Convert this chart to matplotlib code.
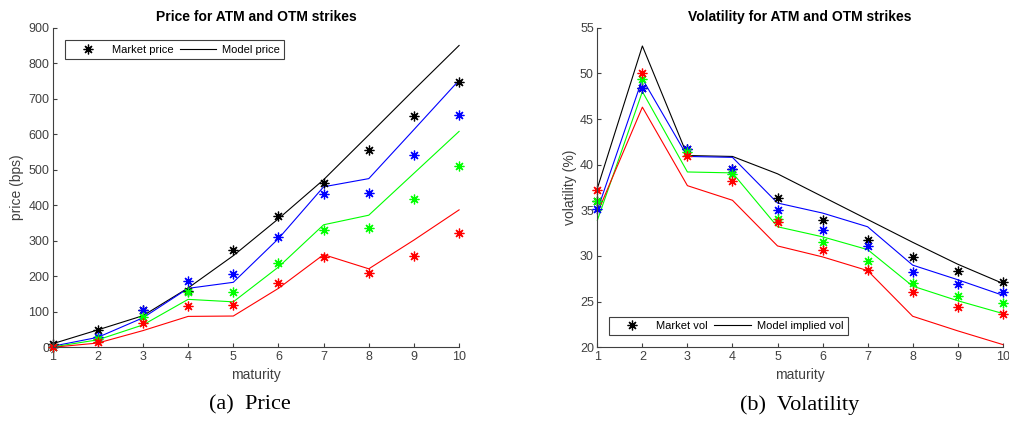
import matplotlib.pyplot as plt

maturity = [1, 2, 3, 4, 5, 6, 7, 8, 9, 10]

# prices (bps): market quotes and model prices, ATM first then OTM strikes
price_mkt_k = [8, 50, 105, 158, 274, 369, 463, 557, 651, 746]
price_mkt_b = [2, 30, 105, 188, 206, 310, 431, 435, 541, 654]
price_mkt_g = [1, 22, 86, 157, 155, 236, 329, 335, 419, 511]
price_mkt_r = [0, 16, 68, 115, 119, 182, 254, 208, 258, 322]

price_mod_k = [10, 49, 89, 167, 258, 362, 472, 598, 725, 850]
price_mod_b = [3, 28, 83, 166, 183, 306, 452, 475, 613, 752]
price_mod_g = [1, 21, 63, 135, 128, 226, 345, 372, 490, 608]
price_mod_r = [0, 12, 47, 87, 88, 166, 261, 221, 302, 387]

# volatilities (%)
vol_mkt_k = [36.0, 48.4, 41.7, 39.5, 36.4, 33.9, 31.7, 29.9, 28.4, 27.1]
vol_mkt_b = [35.1, 48.4, 41.7, 39.5, 35.0, 32.8, 31.1, 28.2, 26.9, 26.1]
vol_mkt_g = [36.0, 49.4, 41.4, 39.0, 34.0, 31.5, 29.5, 27.0, 25.6, 24.8]
vol_mkt_r = [37.2, 50.0, 40.9, 38.2, 33.7, 30.7, 28.5, 26.0, 24.4, 23.6]

vol_mod_k = [37.4, 53.0, 41.0, 40.9, 39.0, 36.5, 34.0, 31.5, 29.1, 27.0]
vol_mod_b = [35.0, 49.4, 40.9, 40.8, 35.8, 34.7, 33.2, 29.0, 27.4, 25.7]
vol_mod_g = [33.9, 48.0, 39.2, 39.1, 33.2, 32.1, 30.7, 26.7, 25.1, 23.7]
vol_mod_r = [34.7, 46.3, 37.7, 36.1, 31.1, 29.9, 28.4, 23.4, 21.8, 20.3]

colores = ["k", "b", (0, 1, 0), "r"]
asterisco = (8, 2, 0)

plt.rcParams["font.family"] = ["Liberation Sans", "DejaVu Sans"]
plt.rcParams["font.size"] = 9

fig = plt.figure(figsize=(10.09, 4.37), dpi=100)
ax1 = fig.add_axes([0.0522, 0.2053, 0.4028, 0.7313])
ax2 = fig.add_axes([0.5920, 0.2053, 0.4018, 0.7313])

cinza = (0.25, 0.25, 0.25)


def estilo(ax):
    for lado in ["top", "right"]:
        ax.spines[lado].set_visible(False)
    for lado in ["left", "bottom"]:
        ax.spines[lado].set_color(cinza)
        ax.spines[lado].set_linewidth(0.8)
    ax.tick_params(direction="in", length=3, width=0.8, colors=cinza,
                   labelcolor=cinza, labelsize=9, pad=2.5)
    ax.set_xlim(1, 10)
    ax.set_xticks(maturity)
    ax.set_xlabel("maturity", color=cinza, fontsize=10, labelpad=4)


def legenda(ax, textos, onde, ancora):
    h1 = ax.plot([], [], linestyle="none", marker=asterisco, markersize=7,
                 markeredgewidth=0.9, color="k")[0]
    h2 = ax.plot([], [], color="k", linewidth=0.8)[0]
    leg = ax.legend([h1, h2], textos, loc=onde, ncol=2, bbox_to_anchor=ancora,
                    fancybox=False, edgecolor=cinza, framealpha=1, fontsize=8,
                    handlelength=3.3, columnspacing=0.6, borderpad=0.4,
                    handletextpad=0.5, borderaxespad=0)
    leg.get_frame().set_linewidth(0.8)


# price panel
mercado = [price_mkt_k, price_mkt_b, price_mkt_g, price_mkt_r]
modelo = [price_mod_k, price_mod_b, price_mod_g, price_mod_r]
for c, md in zip(colores, modelo):
    ax1.plot(maturity, md, color=c, linewidth=0.8, clip_on=False)
for c, mk in zip(colores, mercado):
    ax1.plot(maturity, mk, linestyle="none", marker=asterisco, markersize=7,
             markeredgewidth=0.9, color=c, clip_on=False)

estilo(ax1)
ax1.set_ylim(0, 900)
ax1.set_yticks(range(0, 901, 100))
ax1.set_ylabel("price (bps)", color=cinza, fontsize=10, labelpad=3)
ax1.set_title("Price for ATM and OTM strikes", fontsize=10, fontweight="bold", pad=5)
legenda(ax1, ["Market price", "Model price"], "upper left", (0.03, 0.96))

# volatility panel
mercado = [vol_mkt_k, vol_mkt_b, vol_mkt_g, vol_mkt_r]
modelo = [vol_mod_k, vol_mod_b, vol_mod_g, vol_mod_r]
for c, md in zip(colores, modelo):
    ax2.plot(maturity, md, color=c, linewidth=0.8, clip_on=False)
for c, mk in zip(colores, mercado):
    ax2.plot(maturity, mk, linestyle="none", marker=asterisco, markersize=7,
             markeredgewidth=0.9, color=c, clip_on=False)

estilo(ax2)
ax2.set_ylim(20, 55)
ax2.set_yticks(range(20, 56, 5))
ax2.set_ylabel("volatility (%)", color=cinza, fontsize=10, labelpad=2)
ax2.set_title("Volatility for ATM and OTM strikes", fontsize=10, fontweight="bold", pad=5)
legenda(ax2, ["Market vol", "Model implied vol"], "lower left", (0.03, 0.037))

# legendas das subfiguras
fig.text(250 / 1009, 1 - 405 / 437, "(a)  Price", ha="center", va="center",
         fontsize=16, family=["Liberation Serif", "DejaVu Serif"])
fig.text(800 / 1009, 1 - 405 / 437, "(b)  Volatility", ha="center", va="center",
         fontsize=16, family=["Liberation Serif", "DejaVu Serif"])

fig.savefig("out.png", dpi=100)
